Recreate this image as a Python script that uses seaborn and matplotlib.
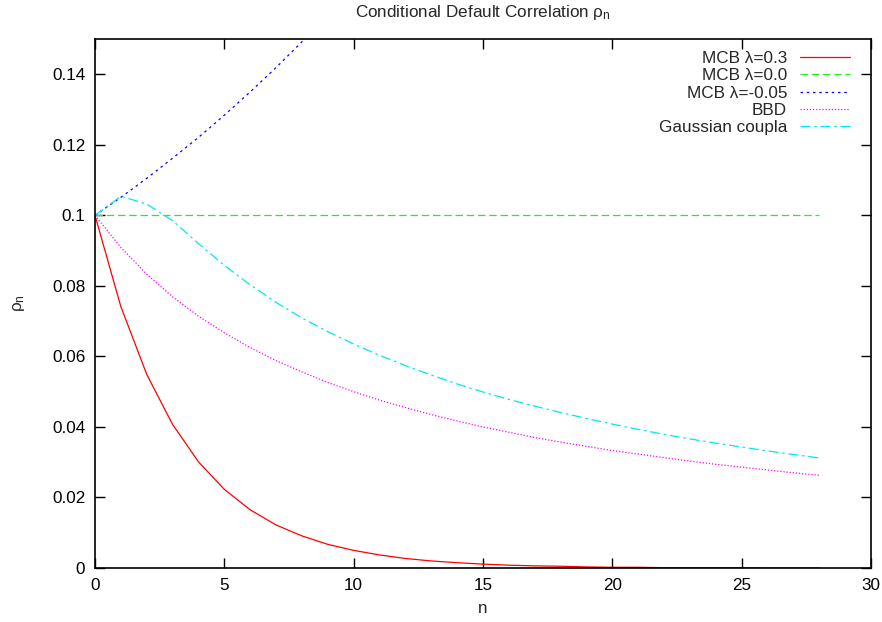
import numpy as np
import pandas as pd
import matplotlib
matplotlib.use('Agg')
import matplotlib.pyplot as plt
import seaborn as sns
from matplotlib.ticker import FuncFormatter

# values, n = 0..28
n = list(range(29))
mcb_03 = [0.1000, 0.0741, 0.0549, 0.0407, 0.0301, 0.0223, 0.0165, 0.0122, 0.0091, 0.0067,
          0.0050, 0.0037, 0.0027, 0.0020, 0.0015, 0.0011, 0.0008, 0.0006, 0.0005, 0.0003,
          0.0002, 0.0002, 0.0001, 0.0001, 0.0001, 0.0001, 0.0000, 0.0000, 0.0000]
mcb_00 = [0.1] * 29
mcb_m005 = [0.1000, 0.1051, 0.1105, 0.1162, 0.1221, 0.1284, 0.1350, 0.1419, 0.1492, 0.1568,
            0.1649, 0.1733, 0.1822, 0.1916, 0.2014, 0.2117, 0.2226, 0.2340, 0.2460, 0.2586,
            0.2718, 0.2858, 0.3004, 0.3158, 0.3320, 0.3490, 0.3669, 0.3857, 0.4055]
bbd = [0.1000, 0.0909, 0.0833, 0.0769, 0.0714, 0.0667, 0.0625, 0.0588, 0.0556, 0.0526,
       0.0500, 0.0476, 0.0455, 0.0435, 0.0417, 0.0400, 0.0385, 0.0370, 0.0357, 0.0345,
       0.0333, 0.0323, 0.0313, 0.0303, 0.0294, 0.0286, 0.0278, 0.0270, 0.0263]
gauss = [0.1000, 0.1054, 0.1032, 0.0985, 0.0920, 0.0858, 0.0803, 0.0753, 0.0709, 0.0670,
         0.0635, 0.0603, 0.0574, 0.0547, 0.0522, 0.0499, 0.0478, 0.0459, 0.0441, 0.0424,
         0.0408, 0.0393, 0.0379, 0.0366, 0.0354, 0.0343, 0.0332, 0.0322, 0.0312]

series = [
    ('MCB λ=0.3', mcb_03, '#ff0000', '-'),
    ('MCB λ=0.0', mcb_00, '#22ee22', (0, (6, 3))),
    ('MCB λ=-0.05', mcb_m005, '#0000ff', (0, (2, 3))),
    ('BBD', bbd, '#ff00ff', (0, (1, 1.5))),
    ('Gaussian coupla', gauss, '#00e8f0', (0, (8, 3, 2, 3))),
]

FS = 12.3

sns.set_style('ticks')
plt.rcParams['font.family'] = ['Liberation Sans', 'DejaVu Sans']
plt.rcParams['mathtext.default'] = 'regular'

fig = plt.figure(figsize=(8.82, 6.22), dpi=100)
ax = fig.add_axes([95 / 882, 54 / 622, 776 / 882, 529 / 622])

for label, vals, color, ls in series:
    sns.lineplot(x=n, y=vals, ax=ax, color=color, linestyle=ls, linewidth=0.9, label=label)

ax.set_xlim(0, 30)
ax.set_ylim(0, 0.15)
ax.set_xticks([0, 5, 10, 15, 20, 25, 30])
ax.set_yticks([0, 0.02, 0.04, 0.06, 0.08, 0.1, 0.12, 0.14])
ax.yaxis.set_major_formatter(FuncFormatter(lambda v, p: '%g' % round(v, 4)))
ax.tick_params(direction='in', length=7, width=1, top=True, right=True,
               labelsize=FS, pad=7, colors='black')
for s in ax.spines.values():
    s.set_linewidth(1.2)
    s.set_color('black')

ax.set_title(r'Conditional Default Correlation $\rho_n$', fontsize=FS, pad=16)
ax.set_xlabel('n', fontsize=FS, labelpad=6)
ax.set_ylabel(r'$\rho_n$', fontsize=FS, labelpad=18)

ax.legend(loc='upper right', bbox_to_anchor=(0.99, 1.003), frameon=False,
          markerfirst=False, fontsize=FS, handlelength=2.9, handletextpad=0.75,
          labelspacing=0.13, borderpad=0.3)

fig.savefig('out.png', dpi=100)
